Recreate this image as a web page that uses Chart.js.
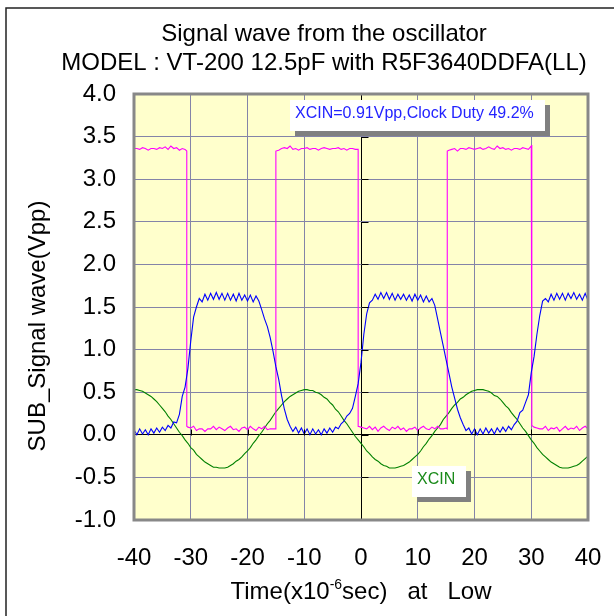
<!DOCTYPE html>
<html>
<head>
<meta charset="utf-8">
<script src="https://cdn.jsdelivr.net/npm/chart.js@4.4.1/dist/chart.umd.min.js"></script>
<style>
  html, body { margin: 0; padding: 0; background: #ffffff; }
  canvas { display: block; }
</style>
</head>
<body>
<canvas id="waveChart" width="614" height="616"></canvas>
<script>
// time axis (x10^-6 sec), sampled every 0.5
var times = [
  -40,-39.5,-39,-38.5,-38,-37.5,-37,-36.5,-36,-35.5,-35,-34.5,-34,-33.5,-33,-32.5,-32,-31.5,-31,-30.5,
  -30,-29.5,-29,-28.5,-28,-27.5,-27,-26.5,-26,-25.5,-25,-24.5,-24,-23.5,-23,-22.5,-22,-21.5,-21,-20.5,
  -20,-19.5,-19,-18.5,-18,-17.5,-17,-16.5,-16,-15.5,-15,-14.5,-14,-13.5,-13,-12.5,-12,-11.5,-11,-10.5,
  -10,-9.5,-9,-8.5,-8,-7.5,-7,-6.5,-6,-5.5,-5,-4.5,-4,-3.5,-3,-2.5,-2,-1.5,-1,-0.5,
  0,0.5,1,1.5,2,2.5,3,3.5,4,4.5,5,5.5,6,6.5,7,7.5,8,8.5,9,9.5,
  10,10.5,11,11.5,12,12.5,13,13.5,14,14.5,15,15.5,16,16.5,17,17.5,18,18.5,19,19.5,
  20,20.5,21,21.5,22,22.5,23,23.5,24,24.5,25,25.5,26,26.5,27,27.5,28,28.5,29,29.5,
  30,30.5,31,31.5,32,32.5,33,33.5,34,34.5,35,35.5,36,36.5,37,37.5,38,38.5,39,39.5,40
];

// blue trace (clock output, Vpp)
var clockWave = [
  0.06,0.00,0.07,0.01,0.06,0.00,0.07,0.02,0.08,0.03,0.09,0.05,0.11,0.08,0.15,0.14,0.24,0.45,0.56,0.78,
  1.10,1.38,1.50,1.60,1.56,1.65,1.58,1.66,1.59,1.67,1.59,1.66,1.58,1.66,1.58,1.65,1.57,1.66,1.58,1.64,
  1.57,1.64,1.56,1.63,1.57,1.47,1.36,1.27,1.14,0.98,0.80,0.65,0.46,0.30,0.18,0.10,0.04,0.09,0.02,0.08,
  0.01,0.07,0.00,0.07,0.01,0.06,0.00,0.07,0.02,0.08,0.03,0.09,0.07,0.13,0.16,0.22,0.25,0.31,0.45,0.60,
  0.85,1.18,1.42,1.55,1.58,1.65,1.59,1.67,1.60,1.67,1.59,1.66,1.58,1.65,1.59,1.65,1.58,1.64,1.57,1.65,
  1.58,1.64,1.56,1.63,1.56,1.60,1.52,1.36,1.20,1.04,0.88,0.72,0.56,0.43,0.30,0.20,0.12,0.05,0.08,0.01,
  0.07,0.00,0.07,0.01,0.08,0.02,0.07,0.01,0.08,0.03,0.09,0.04,0.10,0.06,0.12,0.16,0.26,0.29,0.38,0.47,
  0.73,0.92,1.18,1.40,1.57,1.60,1.56,1.65,1.58,1.66,1.59,1.66,1.58,1.66,1.60,1.67,1.59,1.65,1.58,1.66,1.58
];

// green trace (XCIN)
var xcinWave = [
  0.53,0.53,0.52,0.51,0.49,0.47,0.45,0.42,0.39,0.35,0.31,0.27,0.22,0.18,0.13,0.08,0.03,-0.01,-0.06,-0.10,
  -0.15,-0.18,-0.23,-0.26,-0.29,-0.32,-0.34,-0.36,-0.38,-0.38,-0.39,-0.39,-0.39,-0.38,-0.36,-0.34,-0.31,-0.29,-0.26,-0.22,
  -0.19,-0.15,-0.10,-0.06,-0.01,0.03,0.08,0.13,0.17,0.22,0.27,0.31,0.35,0.39,0.42,0.45,0.47,0.49,0.51,0.52,0.53,
  0.53,0.52,0.52,0.50,0.49,0.47,0.44,0.42,0.38,0.35,0.30,0.27,0.22,0.17,0.13,0.08,0.03,-0.02,-0.06,-0.10,
  -0.14,-0.19,-0.22,-0.26,-0.29,-0.31,-0.34,-0.36,-0.37,-0.39,-0.39,-0.39,-0.38,-0.37,-0.36,-0.34,-0.32,-0.29,-0.26,-0.23,
  -0.19,-0.14,-0.10,-0.05,-0.01,0.04,0.08,0.12,0.18,0.22,0.26,0.31,0.35,0.38,0.42,0.44,0.47,0.49,0.51,0.52,0.53,
  0.53,0.53,0.52,0.51,0.49,0.46,0.45,0.42,0.38,0.34,0.31,0.26,0.22,0.18,0.13,0.08,0.04,-0.01,-0.06,-0.10,
  -0.15,-0.19,-0.23,-0.26,-0.29,-0.32,-0.34,-0.36,-0.38,-0.39,-0.39,-0.39,-0.38,-0.37,-0.36,-0.34,-0.31,-0.28,-0.25
];

// magenta trace (square wave), own time points so the edges stay vertical
var squareTime = [
  -40,-39.5,-39,-38.5,-38,-37.5,-37,-36.5,-36,-35.5,-35,-34.5,-34,-33.5,-33,-32.5,-32,-31.5,-31,-30.7,
  -30.7,-30.5,-30,-29.5,-29,-28.5,-28,-27.5,-27,-26.5,-26,-25.5,-25,-24.5,-24,-23.5,-23,-22.5,-22,-21.5,
  -21,-20.5,-20,-19.5,-19,-18.5,-18,-17.5,-17,-16.5,-16,-15.5,-15,
  -15,-14.5,-14,-13.5,-13,-12.5,-12,-11.5,-11,-10.5,-10,-9.5,-9,-8.5,-8,-7.5,-7,-6.5,-6,-5.5,
  -5,-4.5,-4,-3.5,-3,-2.5,-2,-1.5,-1,-0.5,
  -0.5,0,0.5,1,1.5,2,2.5,3,3.5,4,4.5,5,5.5,6,6.5,7,7.5,8,8.5,9,9.5,10,10.5,11,11.5,12,12.5,13,13.5,14,14.5,15,15.2,
  15.2,15.5,16,16.5,17,17.5,18,18.5,19,19.5,20,20.5,21,21.5,22,22.5,23,23.5,24,24.5,25,25.5,26,26.5,27,27.5,
  28,28.5,29,29.5,30,30.1,
  30.1,30.5,31,31.5,32,32.5,33,33.5,34,34.5,35,35.5,36,36.5,37,37.5,38,38.5,39,39.5,40
];
var squareWave = [
  3.36,3.36,3.35,3.37,3.36,3.34,3.36,3.36,3.35,3.37,3.36,3.38,3.35,3.39,3.36,3.37,3.34,3.36,3.35,3.33,
  0.10,0.09,0.08,0.10,0.05,0.07,0.07,0.04,0.07,0.07,0.10,0.06,0.09,0.07,0.05,0.08,0.10,0.06,0.07,0.04,
  0.08,0.09,0.06,0.10,0.07,0.05,0.09,0.07,0.10,0.06,0.07,0.07,0.07,
  3.33,3.34,3.36,3.37,3.36,3.39,3.35,3.36,3.34,3.36,3.36,3.37,3.35,3.36,3.36,3.34,3.36,3.37,3.36,3.35,
  3.36,3.36,3.37,3.35,3.36,3.34,3.36,3.36,3.35,3.35,
  0.10,0.09,0.08,0.07,0.10,0.06,0.09,0.04,0.08,0.10,0.07,0.05,0.09,0.07,0.10,0.06,0.08,0.04,0.07,0.07,0.09,0.05,0.08,0.10,0.07,0.06,0.09,0.07,0.10,0.07,0.07,0.08,0.07,
  3.33,3.34,3.35,3.36,3.33,3.36,3.36,3.35,3.37,3.36,3.35,3.36,3.37,3.35,3.36,3.38,3.36,3.35,3.39,3.36,3.37,3.35,3.36,3.34,3.36,3.36,
  3.35,3.37,3.36,3.35,3.39,3.40,
  0.11,0.09,0.08,0.07,0.07,0.10,0.05,0.08,0.07,0.09,0.04,0.07,0.10,0.06,0.08,0.07,0.10,0.05,0.08,0.10,0.07
];

var xTicks = [-40, -30, -20, -10, 0, 10, 20, 30, 40];
var yTicks = [-1.0, -0.5, 0.0, 0.5, 1.0, 1.5, 2.0, 2.5, 3.0, 3.5, 4.0];

var FONT = '"Liberation Sans", Arial, sans-serif';

function pairs(xs, ys) {
  return xs.map(function(x, i) { return { x: x, y: ys[i] }; });
}

function gridColor(ctx) {
  return ctx.tick && ctx.tick.value === 0 ? '#000000' : '#8484a8';
}

var decorations = {
  id: 'decorations',
  beforeDraw: function(chart) {
    var c = chart.ctx, a = chart.chartArea;
    c.save();
    c.fillStyle = '#ffffcc';
    c.fillRect(a.left, a.top, a.right - a.left, a.bottom - a.top);
    c.restore();
  },
  afterDraw: function(chart) {
    var c = chart.ctx, a = chart.chartArea;
    var xs = chart.scales.x, ys = chart.scales.y;
    var x0 = Math.round(xs.getPixelForValue(0)) + 0.5;
    var y0 = Math.round(ys.getPixelForValue(0)) + 0.5;
    c.save();

    // little tick marks on the zero axes
    c.strokeStyle = '#000000';
    c.lineWidth = 1;
    c.beginPath();
    yTicks.forEach(function(v) {
      var py = Math.round(ys.getPixelForValue(v)) + 0.5;
      c.moveTo(x0, py); c.lineTo(x0 + 7, py);
    });
    xTicks.forEach(function(v) {
      var px = Math.round(xs.getPixelForValue(v)) + 0.5;
      c.moveTo(px, y0); c.lineTo(px, y0 - 6);
    });
    c.stroke();

    // plot frame
    c.strokeStyle = '#888888';
    c.lineWidth = 3;
    c.strokeRect(a.left, a.top, a.right - a.left, a.bottom - a.top);

    // annotation boxes
    function note(text, color, bx, by, bw, bh) {
      c.fillStyle = '#808080';
      c.fillRect(bx + 5, by + 5, bw, bh);
      c.fillStyle = '#ffffff';
      c.fillRect(bx, by, bw, bh);
      c.fillStyle = color;
      c.font = '16px ' + FONT;
      c.textAlign = 'left';
      c.textBaseline = 'alphabetic';
      c.fillText(text, bx + 5, by + 18);
    }
    note('XCIN=0.91Vpp,Clock Duty 49.2%', '#2323ff', 290, 100, 255, 31);
    note('XCIN', '#1a8a1a', 412, 466, 54, 31);

    // titles
    c.fillStyle = '#000000';
    c.font = '24px ' + FONT;
    c.textAlign = 'center';
    c.textBaseline = 'alphabetic';
    c.fillText('Signal wave from the oscillator', 324, 41);
    c.fillText('MODEL : VT-200 12.5pF with R5F3640DDFA(LL)', 324, 70);

    // x axis title with superscript
    var p1 = 'Time(x10', sup = '-6', p2 = 'sec)   at   Low';
    c.font = '24px ' + FONT;
    var w1 = c.measureText(p1).width, w3 = c.measureText(p2).width;
    c.font = '14px ' + FONT;
    var w2 = c.measureText(sup).width;
    var sx = (a.left + a.right) / 2 - (w1 + w2 + w3) / 2, by = 599;
    c.textAlign = 'left';
    c.font = '24px ' + FONT;
    c.fillText(p1, sx, by);
    c.font = '14px ' + FONT;
    c.fillText(sup, sx + w1, by - 10);
    c.font = '24px ' + FONT;
    c.fillText(p2, sx + w1 + w2, by);

    // y axis title
    c.translate(38, 326);
    c.rotate(-Math.PI / 2);
    c.textAlign = 'center';
    c.textBaseline = 'middle';
    c.fillText('SUB_Signal wave(Vpp)', 0, 0);
    c.restore();

    // outer chart frame (left and top edges show in the picture)
    c.save();
    c.strokeStyle = '#222222';
    c.lineWidth = 1.5;
    c.beginPath();
    c.moveTo(6, 616); c.lineTo(6, 8); c.lineTo(614, 8);
    c.stroke();
    c.restore();
  }
};

new Chart(document.getElementById('waveChart').getContext('2d'), {
  type: 'line',
  data: {
    datasets: [
      {
        label: 'Clock',
        data: pairs(times, clockWave),
        borderColor: '#0000ff',
        borderWidth: 1.1,
        pointRadius: 0,
        tension: 0,
        order: 0
      },
      {
        label: 'Square',
        data: pairs(squareTime, squareWave),
        borderColor: '#ff00ff',
        borderWidth: 1.1,
        pointRadius: 0,
        tension: 0,
        order: 1
      },
      {
        label: 'XCIN',
        data: pairs(times, xcinWave),
        borderColor: '#008000',
        borderWidth: 1.1,
        pointRadius: 0,
        tension: 0,
        order: 2
      }
    ]
  },
  options: {
    responsive: false,
    animation: false,
    devicePixelRatio: 1,
    layout: { padding: { top: 94, right: 26, left: 0, bottom: 0 } },
    plugins: {
      legend: { display: false },
      title: { display: false },
      tooltip: { enabled: false }
    },
    scales: {
      x: {
        type: 'linear',
        min: -40,
        max: 40,
        afterFit: function(s) {
          s.height = 96;
          s.paddingLeft = 0;
          s.paddingRight = 0;
        },
        afterBuildTicks: function(s) { s.ticks = xTicks.map(function(v) { return { value: v }; }); },
        grid: { color: gridColor, lineWidth: 1, drawTicks: false },
        border: { display: false },
        ticks: {
          padding: 24,
          color: '#000000',
          font: { family: FONT, size: 24 },
          maxRotation: 0,
          callback: function(v) { return String(v); }
        }
      },
      y: {
        type: 'linear',
        min: -1,
        max: 4,
        afterFit: function(s) {
          s.width = 134;
          s.paddingTop = 0;
          s.paddingBottom = 0;
        },
        afterBuildTicks: function(s) { s.ticks = yTicks.map(function(v) { return { value: v }; }); },
        grid: { color: gridColor, lineWidth: 1, drawTicks: false },
        border: { display: false },
        ticks: {
          padding: 18,
          color: '#000000',
          font: { family: FONT, size: 24 },
          callback: function(v) { return Number(v).toFixed(1); }
        }
      }
    }
  },
  plugins: [decorations]
});
</script>
</body>
</html>
